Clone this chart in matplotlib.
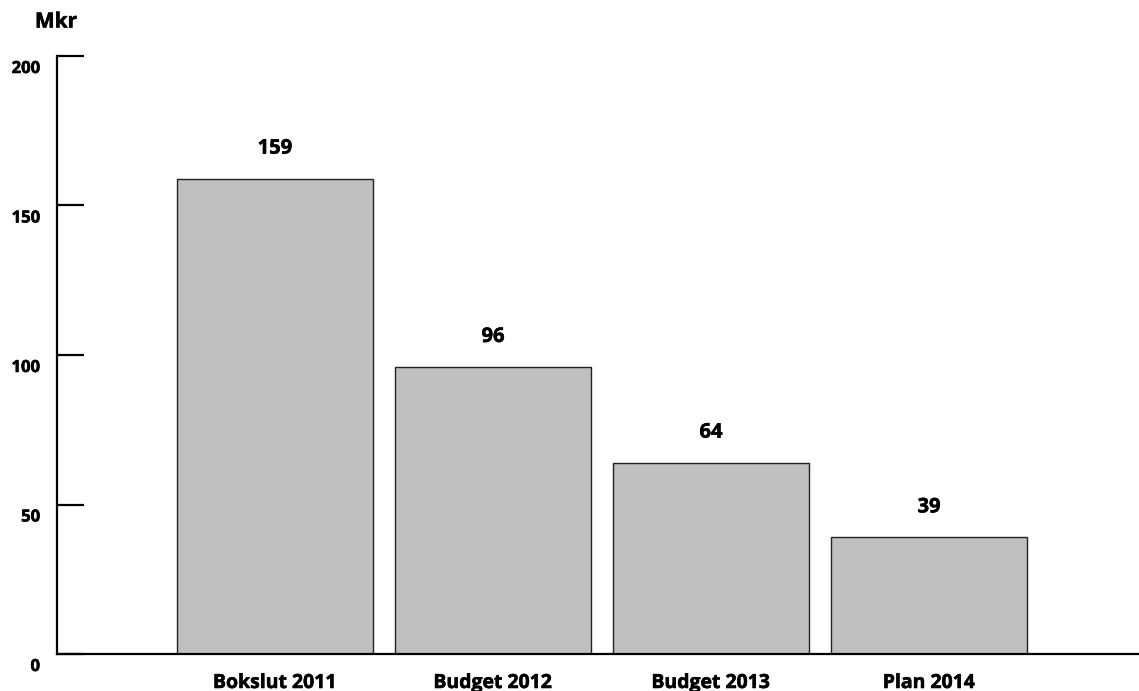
import matplotlib
matplotlib.use("Agg")
import matplotlib.pyplot as plt
import matplotlib.patheffects as pe

categories = ["Bokslut 2011", "Budget 2012", "Budget 2013", "Plan 2014"]
values = [159, 96, 64, 39]
yticks = [0, 50, 100, 150, 200]
ylabel = "Mkr"

plt.rcParams['font.family'] = ['Open Sans', 'DejaVu Sans']
heavy = [pe.withStroke(linewidth=0.4, foreground='black')]

fig = plt.figure(figsize=(11.39, 6.91), dpi=100)
ax = fig.add_axes([57/1139, 37/691, 1 - 57/1139, (654-56)/691])

x = list(range(len(categories)))
ax.bar(x, values, width=0.9, color='#bebfc1', edgecolor='#222222', linewidth=1.0, zorder=2)
ax.set_xlim(-1.0, 3.963)
ax.set_ylim(0, 200)

for s in ['top', 'right']:
    ax.spines[s].set_visible(False)
ax.spines['left'].set_linewidth(1.6)
ax.spines['bottom'].set_linewidth(1.6)
ax.set_xticks([])
ax.set_yticks(yticks)
ax.set_yticklabels([])
ax.tick_params(axis='y', direction='in', length=19.5, width=1.6)

for t in yticks:
    ax.annotate(str(t), xy=(0, t), xycoords=('axes fraction', 'data'),
                xytext=(-17, -12), textcoords='offset pixels',
                ha='right', va='center', fontsize=12, fontweight='bold',
                path_effects=heavy)

ax.annotate(ylabel, xy=(0, 200), xycoords=('axes fraction', 'data'),
            xytext=(20, 34), textcoords='offset pixels',
            ha='right', va='center', fontsize=15, fontweight='bold',
            path_effects=heavy)

for xi, v, c in zip(x, values, categories):
    ax.annotate(str(v), xy=(xi, v), xytext=(0, 30), textcoords='offset pixels',
                ha='center', va='center', fontsize=14.5, fontweight='bold',
                path_effects=heavy)
    ax.annotate(c, xy=(xi, 0), xytext=(0, -29), textcoords='offset pixels',
                ha='center', va='center', fontsize=14, fontweight='bold',
                path_effects=heavy)

fig.savefig("out.png", dpi=100)
